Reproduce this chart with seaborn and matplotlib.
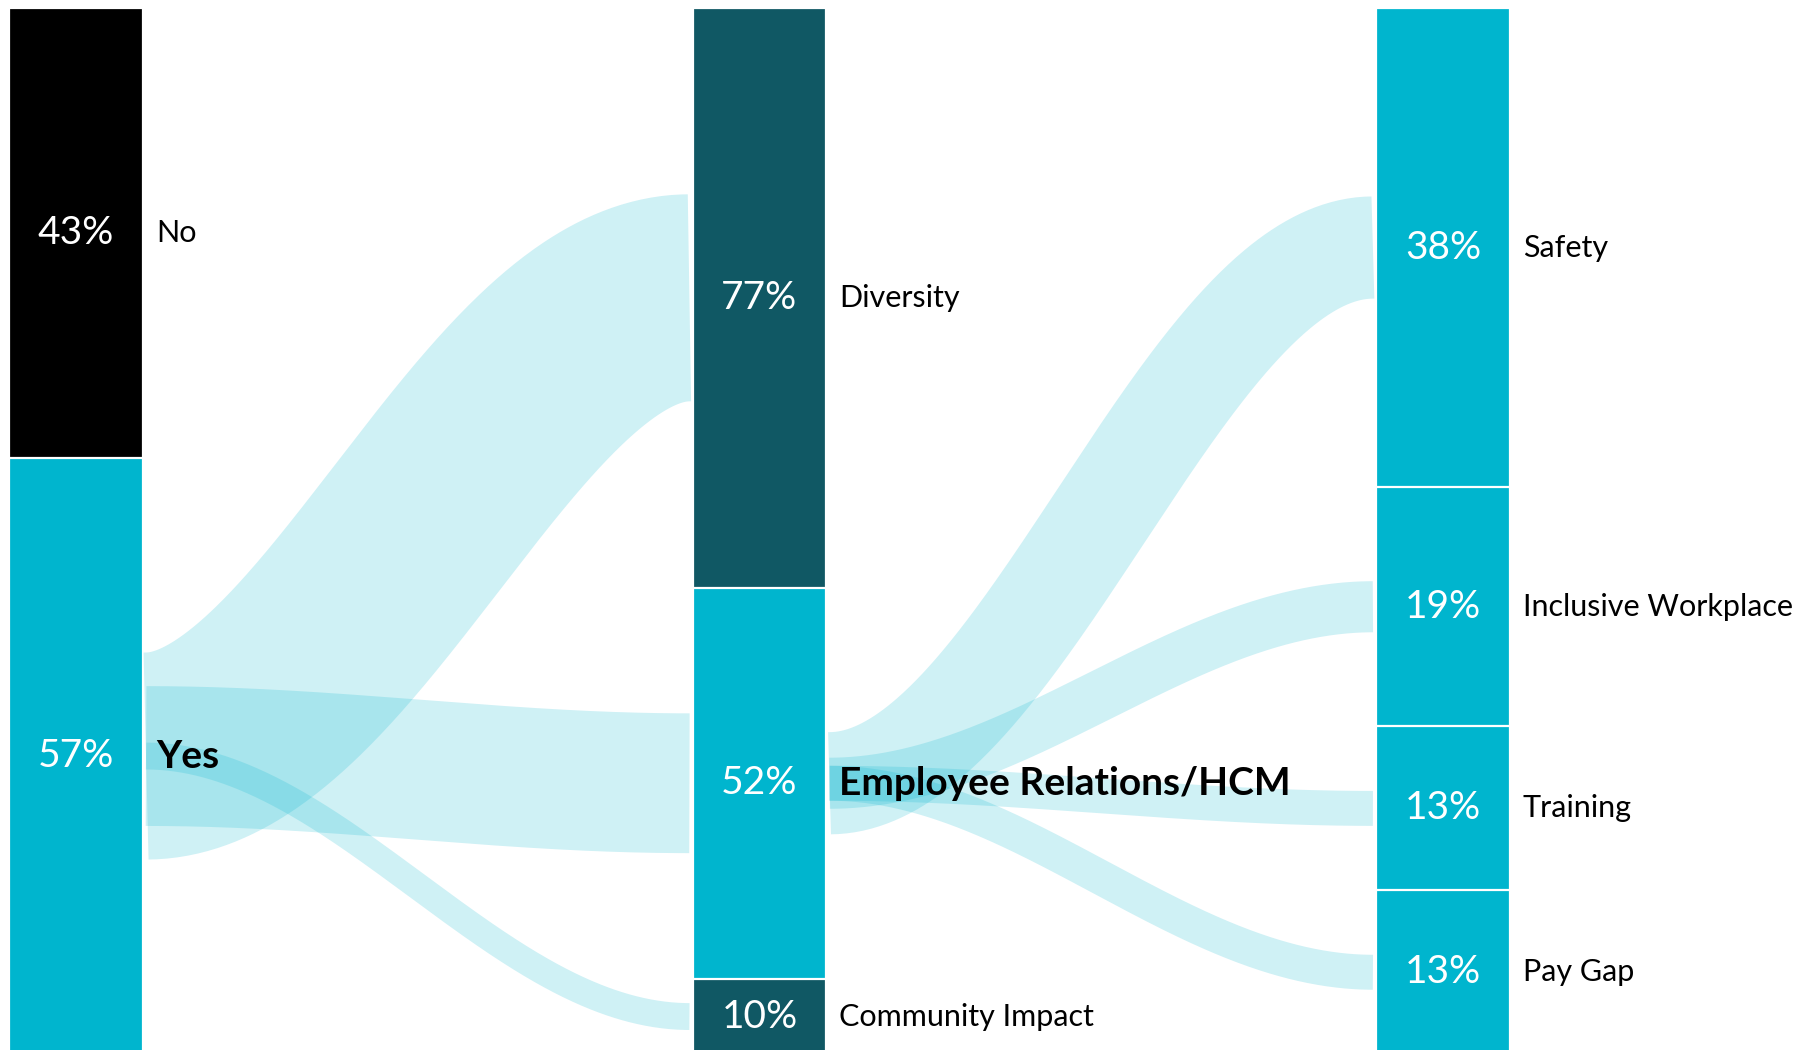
import numpy as np
import pandas as pd
import matplotlib
matplotlib.use("Agg")
import matplotlib.pyplot as plt
import seaborn as sns

# ---------------------------------------------------------------- data
answer_labels = ["No", "Yes"]
answer_values = [43, 57]

topic_labels = ["Diversity", "Employee Relations/HCM", "Community Impact"]
topic_values = [77, 52, 10]

detail_labels = ["Safety", "Inclusive Workplace", "Training", "Pay Gap"]
detail_values = [38, 19, 13, 13]

stage_names = ["answer", "topic", "detail"]

# node of each column that feeds the next column
topic_source = "Yes"
detail_source = "Employee Relations/HCM"
bold_labels = {"Yes", "Employee Relations/HCM"}

# ---------------------------------------------------------------- style
CYAN = "#00B5CE"
TEAL = "#105864"
BLACK = "#000000"
node_colors = {
    "No": BLACK, "Yes": CYAN,
    "Diversity": TEAL, "Employee Relations/HCM": CYAN, "Community Impact": TEAL,
    "Safety": CYAN, "Inclusive Workplace": CYAN, "Training": CYAN, "Pay Gap": CYAN,
}
FLOW_COLOR = CYAN
FLOW_ALPHA = 0.19
BAR_W = 0.196            # bar width in category units
FLOW_PER_PCT = 0.257     # ribbon thickness (column-height units) per percent
GAP_X = 0.0045           # space between a bar and its ribbons
LABEL_PAD = 0.019
CURVE_C = 0.35           # horizontal pull of the ribbon's control points

sns.set_theme(style="white")
plt.rcParams["font.family"] = ["Lato", "DejaVu Sans"]

# ---------------------------------------------------------------- node table
rows = []
for col, (labels, values) in enumerate(
        [(answer_labels, answer_values), (topic_labels, topic_values),
         (detail_labels, detail_values)]):
    total = float(sum(values))
    start = 0.0
    for rank, (lab, val) in enumerate(zip(labels, values)):
        share = 100.0 * val / total
        rows.append(dict(stage=stage_names[col], col=col, rank=rank, label=lab,
                         value=val, start=start, end=start + share))
        start += share
nodes = pd.DataFrame(rows)
nodes["mid"] = (nodes["start"] + nodes["end"]) / 2
node = nodes.set_index("label")

# ---------------------------------------------------------------- figure
fig = plt.figure(figsize=(18.02, 10.5), dpi=100)
ax = fig.add_axes([0, 0, 1, 1])

XLIM = (-0.1112, 2.5253)
YLIM = (99.6, -0.77)

# stacked columns: draw cumulative bars from the bottom segment upward
for rank in sorted(nodes["rank"].unique(), reverse=True):
    layer = nodes[nodes["rank"] == rank]
    sns.barplot(data=layer, x="stage", y="end", hue="label", order=stage_names,
                palette=node_colors, dodge=False, width=BAR_W, saturation=1,
                edgecolor="white", linewidth=1.6, errorbar=None, legend=False,
                ax=ax)

ax.set_xlim(*XLIM)
ax.set_ylim(*YLIM)
ax.axis("off")

# points per y-unit, used to turn ribbon thickness into a stroke width
px_per_unit = fig.get_figheight() * fig.dpi / abs(YLIM[0] - YLIM[1])
pt_per_unit = px_per_unit * 72.0 / fig.dpi


def ribbon(src, dst, value):
    s, d = node.loc[src], node.loc[dst]
    x0 = s["col"] + BAR_W / 2 + GAP_X
    x1 = d["col"] - BAR_W / 2 - GAP_X
    y0, y1 = s["mid"], d["mid"]
    t = np.linspace(0, 1, 300)
    span = x1 - x0
    xa, xb = x0 + CURVE_C * span, x1 - CURVE_C * span
    bx = (1 - t) ** 3 * x0 + 3 * (1 - t) ** 2 * t * xa + 3 * (1 - t) * t ** 2 * xb + t ** 3 * x1
    w = 3 * t ** 2 - 2 * t ** 3
    by = y0 + (y1 - y0) * w
    ax.plot(bx, by, color=FLOW_COLOR, alpha=FLOW_ALPHA,
            lw=value * FLOW_PER_PCT * pt_per_unit, solid_capstyle="butt",
            zorder=1)


for lab, val in zip(topic_labels, topic_values):
    ribbon(topic_source, lab, val)
for lab, val in zip(detail_labels, detail_values):
    ribbon(detail_source, lab, val)

# value and name labels
for _, r in nodes.iterrows():
    ax.text(r["col"], r["mid"], f"{r['value']}%", color="white", fontsize=28,
            fontweight="normal", ha="center", va="center", zorder=5)
    bold = r["label"] in bold_labels
    ax.text(r["col"] + BAR_W / 2 + LABEL_PAD, r["mid"], r["label"],
            color="black", fontsize=28 if bold else 22,
            fontweight="bold" if bold else "normal",
            ha="left", va="center", zorder=5)

fig.savefig("out.png", dpi=100)
